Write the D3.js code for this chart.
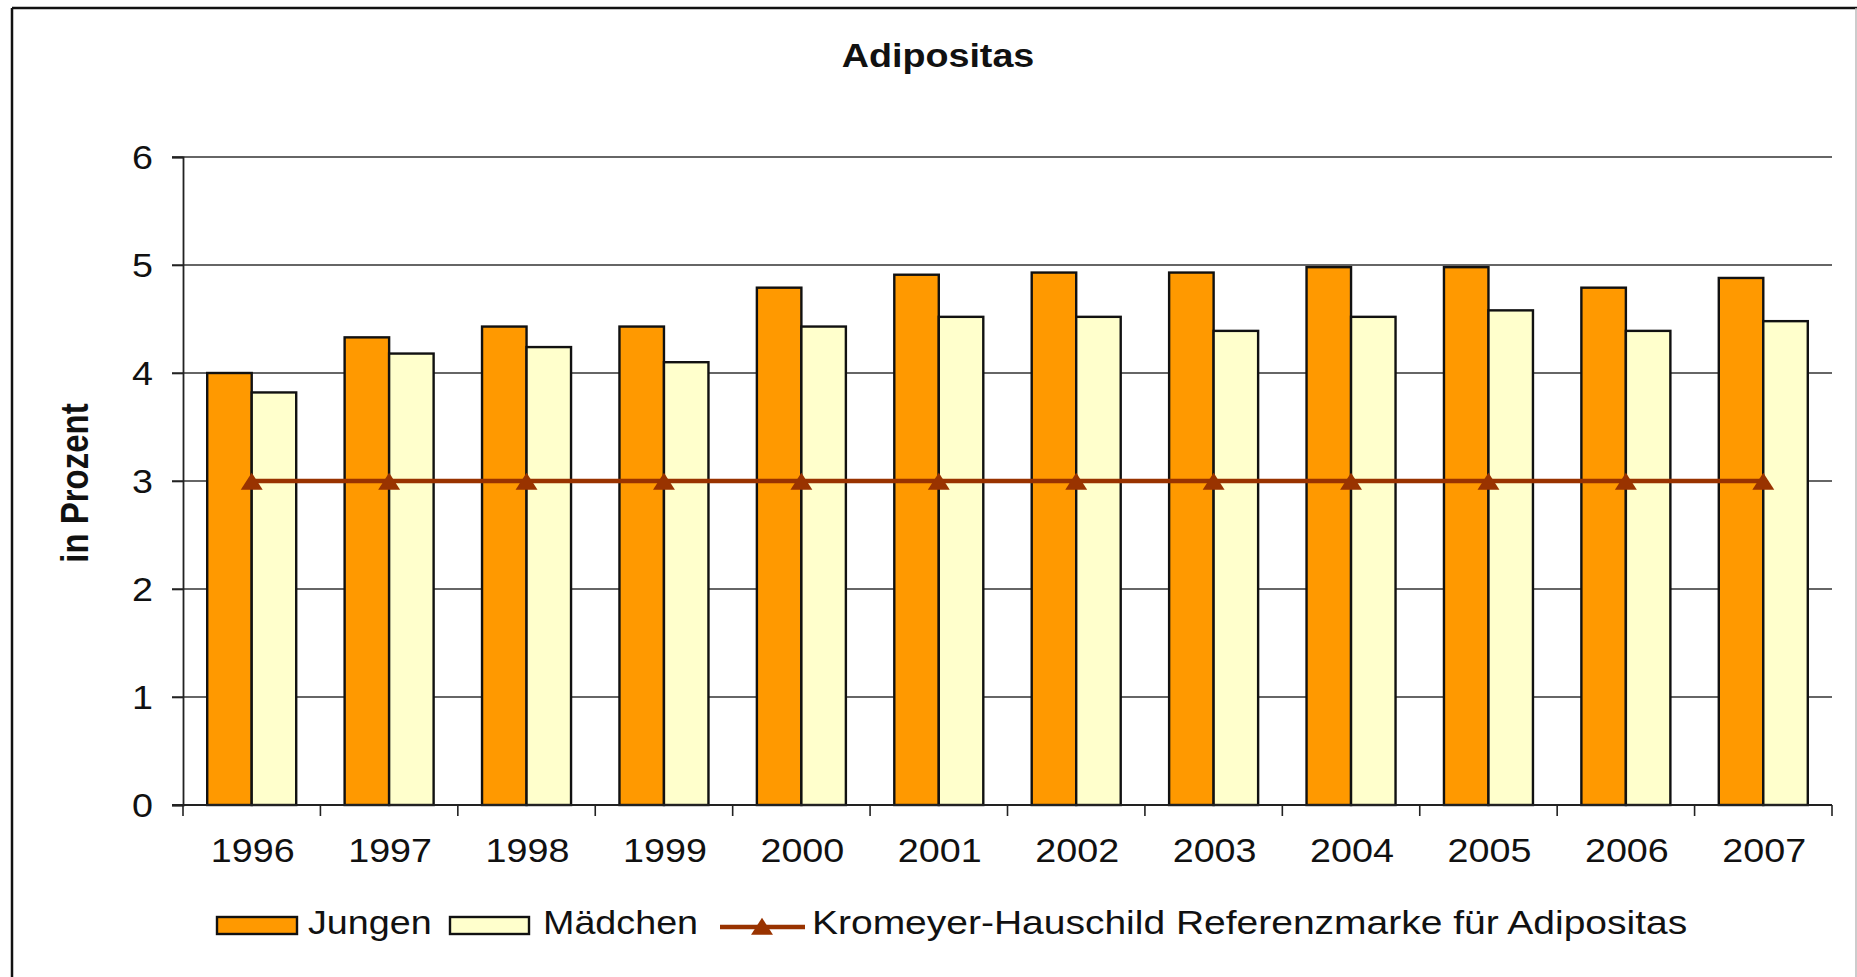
<!DOCTYPE html>
<html>
<head>
<meta charset="utf-8">
<script src="https://cdn.jsdelivr.net/npm/d3@7"></script>
<style>
  html, body { margin: 0; padding: 0; background: #fff; }
  svg text { font-family: "Liberation Sans", Arial, sans-serif; fill: #111; }
</style>
</head>
<body>
<div id="chart"></div>
<script>
// data
var years = ["1996","1997","1998","1999","2000","2001","2002","2003","2004","2005","2006","2007"];
var jungen = [4.0, 4.33, 4.43, 4.43, 4.79, 4.91, 4.93, 4.93, 4.98, 4.98, 4.79, 4.88];
var maedchen = [3.82, 4.18, 4.24, 4.10, 4.43, 4.52, 4.52, 4.39, 4.52, 4.58, 4.39, 4.48];
var referenz = [3, 3, 3, 3, 3, 3, 3, 3, 3, 3, 3, 3];
var yTicks = [0, 1, 2, 3, 4, 5, 6];
var seriesNames = ["Jungen", "Mädchen", "Kromeyer-Hauschild Referenzmarke für Adipositas"];

var W = 1857, H = 977;
var sx = 1.16; // the picture is stretched sideways, text too
var colJ = "#ff9900", colM = "#ffffcc", colRef = "#993300";

var svg = d3.select("#chart").append("svg")
  .attr("width", W).attr("height", H);

// frame
svg.append("line").attr("x1", 12).attr("y1", 8).attr("x2", 12).attr("y2", H)
  .attr("stroke", "#111").attr("stroke-width", 2.5);
svg.append("line").attr("x1", 12).attr("y1", 8).attr("x2", W).attr("y2", 8)
  .attr("stroke", "#111").attr("stroke-width", 2.5);
svg.append("line").attr("x1", 1856).attr("y1", 8).attr("x2", 1856).attr("y2", H)
  .attr("stroke", "#bbb").attr("stroke-width", 1.5);

var plotLeft = 183, plotRight = 1832, plotTop = 157, plotBottom = 805;

var x0 = d3.scaleBand().domain(years).range([plotLeft, plotRight]).padding(0);
var x1 = d3.scaleBand().domain(["J", "M"]).range([0, x0.bandwidth()])
  .paddingInner(0).paddingOuter(0.544);
var y = d3.scaleLinear().domain([0, 6]).range([plotBottom, plotTop]);

function stretchText(sel, x, yy, s) {
  return sel.attr("transform", "translate(" + x + "," + yy + ") scale(" + (s || sx) + ",1)");
}

// title
stretchText(svg.append("text"), 938, 67)
  .attr("text-anchor", "middle").attr("font-size", 32.5).attr("font-weight", "bold")
  .text("Adipositas");

// y label
svg.append("text")
  .attr("transform", "translate(88,483) scale(" + sx + ",1) rotate(-90)")
  .attr("text-anchor", "middle").attr("font-size", 33).attr("font-weight", "bold")
  .text("in Prozent");

// gridlines
svg.append("g").selectAll("line").data(yTicks.filter(function(d){ return d > 0; }))
  .join("line")
  .attr("x1", plotLeft - 11).attr("x2", plotRight)
  .attr("y1", function(d){ return y(d); }).attr("y2", function(d){ return y(d); })
  .attr("stroke", "#333").attr("stroke-width", 1.6);

// y axis
var yAxis = svg.append("g").attr("transform", "translate(" + plotLeft + ",0)")
  .call(d3.axisLeft(y).tickValues(yTicks).tickSize(11).tickFormat(d3.format("d")));
yAxis.select(".domain").attr("stroke", "#222").attr("stroke-width", 1.8);
yAxis.selectAll(".tick line").attr("stroke", "#222").attr("stroke-width", 1.6);
yAxis.selectAll(".tick text")
  .attr("x", -30 / sx).attr("dy", "0.35em")
  .attr("transform", "scale(" + sx + ",1)")
  .attr("font-size", 32.5).attr("font-family", null).attr("fill", "#111");

// bars
var groups = svg.append("g").selectAll("g").data(years).join("g")
  .attr("transform", function(d){ return "translate(" + x0(d) + ",0)"; });
groups.append("rect")
  .attr("x", x1("J")).attr("width", x1.bandwidth())
  .attr("y", function(d, i){ return y(jungen[i]); })
  .attr("height", function(d, i){ return y(0) - y(jungen[i]); })
  .attr("fill", colJ).attr("stroke", "#111").attr("stroke-width", 2.4);
groups.append("rect")
  .attr("x", x1("M")).attr("width", x1.bandwidth())
  .attr("y", function(d, i){ return y(maedchen[i]); })
  .attr("height", function(d, i){ return y(0) - y(maedchen[i]); })
  .attr("fill", colM).attr("stroke", "#111").attr("stroke-width", 2.4);

// x axis line and ticks at category boundaries
svg.append("line").attr("x1", plotLeft - 11).attr("x2", plotRight)
  .attr("y1", plotBottom).attr("y2", plotBottom)
  .attr("stroke", "#222").attr("stroke-width", 1.8);
var bounds = years.map(function(d){ return x0(d); }).concat([x0(years[years.length - 1]) + x0.step()]);
svg.append("g").selectAll("line").data(bounds).join("line")
  .attr("x1", function(d){ return d; }).attr("x2", function(d){ return d; })
  .attr("y1", plotBottom).attr("y2", plotBottom + 11)
  .attr("stroke", "#222").attr("stroke-width", 1.6);

// x labels
svg.append("g").selectAll("text").data(years).join("text")
  .attr("transform", function(d){
    return "translate(" + (x0(d) + x0.bandwidth() / 2 + 1) + ",862) scale(" + sx + ",1)";
  })
  .attr("text-anchor", "middle").attr("font-size", 32.5)
  .text(function(d){ return d; });

// reference line
var line = d3.line()
  .x(function(d, i){ return x0(years[i]) + x0.bandwidth() / 2; })
  .y(function(d){ return y(d); });
svg.append("path").datum(referenz).attr("d", line)
  .attr("fill", "none").attr("stroke", colRef).attr("stroke-width", 4.5);
var tri = d3.symbol().type(d3.symbolTriangle).size(166);
svg.append("g").selectAll("path").data(referenz).join("path")
  .attr("d", tri)
  .attr("transform", function(d, i){
    return "translate(" + (x0(years[i]) + x0.bandwidth() / 2) + "," + (y(d) + 3) + ") scale(1.12,1)";
  })
  .attr("fill", colRef);

// legend
var leg = svg.append("g");
leg.append("rect").attr("x", 217).attr("y", 917).attr("width", 80).attr("height", 17)
  .attr("fill", colJ).attr("stroke", "#111").attr("stroke-width", 2.4);
stretchText(leg.append("text"), 308, 934).attr("font-size", 32.5).text(seriesNames[0]);
leg.append("rect").attr("x", 450).attr("y", 917).attr("width", 79).attr("height", 17)
  .attr("fill", colM).attr("stroke", "#111").attr("stroke-width", 2.4);
stretchText(leg.append("text"), 543, 934).attr("font-size", 32.5).text(seriesNames[1]);
leg.append("line").attr("x1", 720).attr("x2", 805).attr("y1", 927).attr("y2", 927)
  .attr("stroke", colRef).attr("stroke-width", 4.5);
leg.append("path").attr("d", tri).attr("transform", "translate(762,929) scale(1.12,1)")
  .attr("fill", colRef);
stretchText(leg.append("text"), 812, 934, 1.2).attr("font-size", 32.5).text(seriesNames[2]);
</script>
</body>
</html>
